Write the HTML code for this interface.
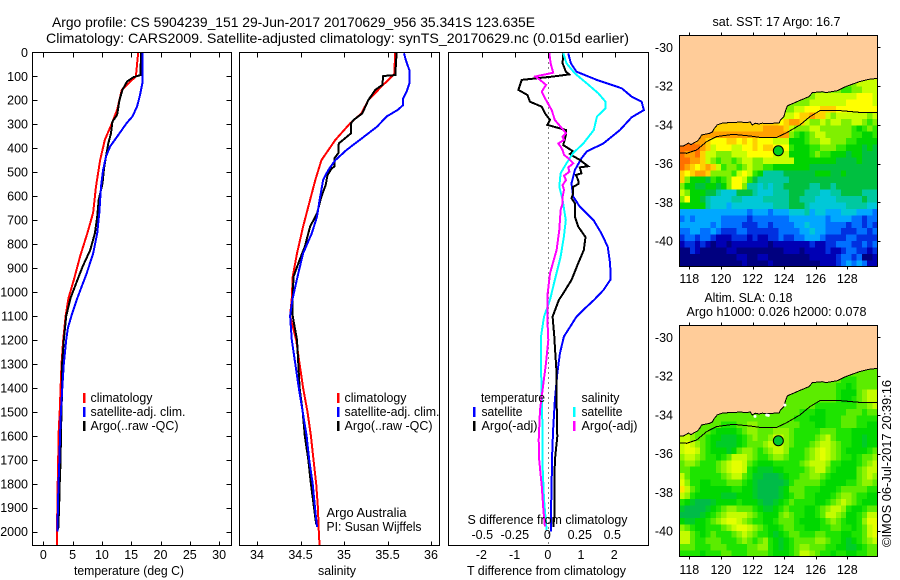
<!DOCTYPE html>
<html>
<head>
<meta charset="utf-8">
<title>Argo profile 5904239_151</title>
<style>
html,body{margin:0;padding:0;background:#fff;}
svg{display:block;}
text{font-family:"Liberation Sans",sans-serif;font-size:12.5px;fill:#000;}
</style>
</head>
<body>
<svg id="chart" xmlns="http://www.w3.org/2000/svg" width="900" height="580" viewBox="0 0 900 580">
<rect x="0" y="0" width="900" height="580" fill="#fff"/>
<defs>
<clipPath id="clip-sst"><rect x="679.5" y="35.5" width="198" height="231"/></clipPath>
<clipPath id="clip-sla"><rect x="679.5" y="325.5" width="198" height="231"/></clipPath>
<clipPath id="clip-p1"><rect x="32.5" y="52.5" width="199" height="493"/></clipPath>
<clipPath id="clip-p2"><rect x="239.5" y="52.5" width="200" height="493"/></clipPath>
<clipPath id="clip-p3"><rect x="448.5" y="52.5" width="200" height="493"/></clipPath>
</defs>
<g id="layer-maps"></g>
<g id="layer-lines"></g>
<g id="layer-axes"></g>
<text x="52" y="27" style="font-size:14px" textLength="483" lengthAdjust="spacingAndGlyphs">Argo profile: CS 5904239_151 29-Jun-2017 20170629_956 35.341S 123.635E</text>
<text x="46" y="43" style="font-size:14px" textLength="583" lengthAdjust="spacingAndGlyphs">Climatology: CARS2009. Satellite-adjusted climatology: synTS_20170629.nc (0.015d earlier)</text>
<text x="74" y="575" textLength="110" lengthAdjust="spacingAndGlyphs">temperature (deg C)</text>
<text x="318" y="575" textLength="38" lengthAdjust="spacingAndGlyphs">salinity</text>
<text x="467" y="575" textLength="159" lengthAdjust="spacingAndGlyphs">T difference from climatology</text>
<text x="467.5" y="524" textLength="160" lengthAdjust="spacingAndGlyphs">S difference from climatology</text>
<text x="90.5" y="402" textLength="62" lengthAdjust="spacingAndGlyphs">climatology</text>
<text x="90.5" y="416" textLength="95" lengthAdjust="spacingAndGlyphs">satellite-adj. clim.</text>
<text x="90.5" y="430" textLength="88" lengthAdjust="spacingAndGlyphs">Argo(..raw -QC)</text>
<text x="344.5" y="402" textLength="62" lengthAdjust="spacingAndGlyphs">climatology</text>
<text x="344.5" y="416" textLength="95" lengthAdjust="spacingAndGlyphs">satellite-adj. clim.</text>
<text x="344.5" y="430" textLength="88" lengthAdjust="spacingAndGlyphs">Argo(..raw -QC)</text>
<text x="326.5" y="517" textLength="80" lengthAdjust="spacingAndGlyphs">Argo Australia</text>
<text x="326.5" y="531" textLength="95" lengthAdjust="spacingAndGlyphs">PI: Susan Wijffels</text>
<text x="481" y="402" textLength="64" lengthAdjust="spacingAndGlyphs">temperature</text>
<text x="481.5" y="416" textLength="41" lengthAdjust="spacingAndGlyphs">satellite</text>
<text x="481.5" y="430" textLength="56" lengthAdjust="spacingAndGlyphs">Argo(-adj)</text>
<text x="581.5" y="402" textLength="38" lengthAdjust="spacingAndGlyphs">salinity</text>
<text x="581.5" y="416" textLength="41" lengthAdjust="spacingAndGlyphs">satellite</text>
<text x="581.5" y="430" textLength="56" lengthAdjust="spacingAndGlyphs">Argo(-adj)</text>
<text x="712.5" y="26" textLength="128" lengthAdjust="spacingAndGlyphs">sat. SST: 17 Argo: 16.7</text>
<text x="704.5" y="302" textLength="88" lengthAdjust="spacingAndGlyphs">Altim. SLA: 0.18</text>
<text x="686.5" y="316" textLength="180" lengthAdjust="spacingAndGlyphs">Argo h1000: 0.026 h2000: 0.078</text>
<text transform="translate(891,547) rotate(-90)" x="0" y="0" textLength="167" lengthAdjust="spacingAndGlyphs">©IMOS 06-Jul-2017 20:39:16</text>
</svg>
<script>
// ---------- profile data ----------
const depthTicks = [0,100,200,300,400,500,600,700,800,900,1000,1100,1200,1300,1400,1500,1600,1700,1800,1900,2000];
const tempTicks = [0,5,10,15,20,25,30];
const salTicks = [34,34.5,35,35.5,36];
const salTickLabels = ['34','34.5','35','35.5','36'];
const tDiffTicks = [-2,-1,0,1,2];
const sDiffTicks = [-0.5,-0.25,0,0.25,0.5];
const sDiffTickLabels = ['-0.5','-0.25','0','0.25','0.5'];

const tempClimDepth = [0,100,157,240,296,366,450,560,670,755,850,950,1026,1100,1200,1300,1400,1500,1600,1700,1800,1900,2000,2060];
const tempClimValue = [16.2,15.8,13.4,12.6,11.7,10.5,9.7,9.0,8.5,7.5,6.3,5.2,4.3,3.8,3.4,3.1,2.95,2.8,2.6,2.55,2.45,2.4,2.3,2.3];
const tempSatDepth = [0,100,130,178,226,268,296,338,393,435,491,560,670,755,840,922,1026,1100,1150,1200,1300,1400,1500,1600,1700,1800,1900,2000];
const tempSatValue = [16.9,16.9,16.9,16.5,16.0,15.2,14.2,13.0,11.4,10.7,10.2,9.85,9.55,9.2,8.5,7.4,5.8,4.8,4.2,3.9,3.5,3.25,3.0,2.85,2.75,2.6,2.5,2.4];
const tempArgoDepth = [0,95,104,122,157,199,261,289,338,380,435,484,547,616,686,755,825,894,964,1026,1100,1200,1300,1400,1500,1600,1700,1800,1900,1990];
const tempArgoValue = [16.7,16.55,15.4,14.3,13.5,13.0,12.6,11.8,11.55,11.1,10.7,10.35,10.1,9.45,9.2,8.8,8.0,6.7,5.6,4.65,3.9,3.5,3.2,3.2,3.1,3.0,2.95,2.8,2.7,2.55];

const salClimDepth = [0,90,143,199,255,296,366,450,533,644,727,839,936,1026,1100,1200,1300,1400,1500,1600,1700,1800,1900,2000,2060];
const salClimValue = [35.586,35.58,35.43,35.28,35.2,35.07,34.9,34.74,34.67,34.59,34.53,34.46,34.41,34.40,34.38,34.45,34.49,34.53,34.58,34.62,34.65,34.68,34.70,34.71,34.72];
const salSatDepth = [4,32,74,130,164,192,220,240,268,310,366,407,450,491,533,616,686,755,839,922,1026,1050,1100,1200,1300,1400,1500,1600,1700,1800,1900,1980];
const salSatValue = [35.69,35.71,35.75,35.75,35.72,35.68,35.68,35.62,35.49,35.38,35.18,35.03,34.9,34.82,34.76,34.72,34.69,34.63,34.53,34.475,34.41,34.40,34.38,34.40,34.44,34.48,34.525,34.57,34.60,34.64,34.667,34.69];
const salArgoDepth = [0,95,99,136,157,199,255,282,296,338,359,380,421,442,477,484,512,553,602,672,727,811,866,936,1026,1100,1200,1300,1400,1500,1600,1700,1800,1900,1970];
const salArgoValue = [35.605,35.59,35.45,35.44,35.36,35.28,35.21,35.11,35.08,35.08,35.01,34.94,34.935,34.89,34.89,34.86,34.81,34.79,34.74,34.69,34.61,34.55,34.49,34.42,34.41,34.41,34.46,34.475,34.49,34.525,34.55,34.59,34.62,34.655,34.68];

const tDiffSatDepth = [4,46,81,115,150,185,206,241,271,324,380,414,442,491,547,602,644,700,755,811,880,947,992,1033,1075,1103,1186,1256,1339,1450,1561,1659,1798,1923,2000];
const tDiffSatValue = [0.60,0.68,0.85,1.46,2.21,2.51,2.81,2.88,2.51,2.16,1.66,1.16,1.0,0.8,0.7,0.75,0.95,1.36,1.6,1.79,1.86,1.88,1.66,1.38,1.05,0.85,0.47,0.35,0.27,0.2,0.15,0.12,0.10,0.08,0.08];
const tDiffArgoDepth = [4,46,81,92,101,115,136,157,178,206,227,255,282,303,324,345,387,400,414,424,433,449,475,480,505,512,533,549,561,588,609,630,686,727,771,825,880,950,1006,1033,1103,1186,1228,1339,1450,1603,1700,1812,1937,1980];
const tDiffArgoValue = [0.45,0.43,0.53,0.63,0.15,-0.8,-0.85,-0.9,-0.63,-0.55,-0.2,-0.1,0.05,-0.03,0.53,0.53,0.45,0.6,0.75,0.65,0.75,0.95,1.2,0.95,1.0,0.83,0.9,0.91,0.75,0.75,0.7,0.8,0.8,0.9,1.12,1.07,0.9,0.7,0.45,0.32,0.13,0.18,0.2,0.25,0.25,0.27,0.2,0.18,0.18,0.15];
const sDiffSatDepth = [4,46,88,129,171,206,234,268,324,380,421,463,505,560,616,700,769,853,950,1033,1103,1186,1311,1450,1589,1728,1867,1992];
const sDiffSatValue = [0.115,0.14,0.205,0.295,0.385,0.44,0.44,0.375,0.35,0.27,0.19,0.14,0.095,0.085,0.11,0.135,0.12,0.095,0.05,0.013,-0.033,-0.056,-0.056,-0.05,-0.044,-0.044,-0.033,-0.013];
const sDiffArgoDepth = [4,46,85,101,115,136,164,199,241,282,324,338,352,366,380,394,408,428,442,463,480,498,515,533,554,574,602,630,658,741,825,922,1019,1103,1200,1297,1381,1492,1617,1700,1812,1909,1978];
const sDiffArgoValue = [0.008,0.018,0.038,-0.10,-0.064,-0.018,-0.05,-0.018,0.026,0.05,0.115,0.136,0.110,0.121,0.077,0.095,0.110,0.121,0.154,0.192,0.154,0.162,0.121,0.136,0.110,0.121,0.110,0.110,0.095,0.085,0.064,0.013,-0.008,-0.008,0,-0.018,-0.038,-0.064,-0.074,-0.07,-0.05,-0.038,-0.026];

// ---------- map data ----------
const lonTicks = [118,120,122,124,126,128];
const latTicks = [-30,-32,-34,-36,-38,-40];
const coastLon = [117.35,117.60,117.77,117.94,118.11,118.30,118.51,118.66,118.78,119.04,119.29,119.46,119.56,119.77,120.09,120.51,121.25,121.67,121.84,121.99,122.16,122.41,122.62,123.05,123.36,123.68,123.78,123.99,124.10,124.21,124.73,124.94,125.57,125.79,126.42,126.63,127.37,127.90,128.74,129.37,129.94];
const coastLat = [-35.08,-35.10,-35.03,-34.94,-35.03,-34.93,-34.84,-34.70,-34.53,-34.48,-34.44,-34.37,-34.22,-34.00,-33.92,-33.89,-33.86,-33.89,-33.84,-34.01,-33.92,-33.96,-33.92,-33.94,-33.92,-33.92,-33.75,-33.58,-33.24,-33.02,-32.84,-32.76,-32.55,-32.34,-32.29,-32.34,-32.24,-32.03,-31.78,-31.65,-31.60];
const shelfLon = [117.37,117.83,118.46,119.10,119.73,120.78,121.84,122.47,123.53,124.16,125.00,125.64,126.27,127.54,128.80,129.90];
const shelfLat = [-35.44,-35.47,-35.30,-34.87,-34.61,-34.49,-34.58,-34.65,-34.65,-34.41,-34.01,-33.58,-33.27,-33.27,-33.36,-33.37];
const floatLon = [123.635];
const floatLat = [-35.341];
const slaGapLon = [122.16,122.9,123.0,124.05];
const slaGapLat = [-34.08,-34.01,-34.03,-33.5];

const sstRows = [
"kkkkkkkkkkkkkkkkkkkkkkkkkkkkkkkkkkkkll",
"kkkkkkkkkkkkkkkkkkkkkkkkkkkkkkkkkkllll",
"kkkkkkkkkkkkkkkkkkkkkkkkkkkkkkkjjkklll",
"kkkkkkkkkkkkkkkkkkkkkkkkkkllllllllmmml",
"kkkkkkkkkkkkkkkkkkkkkkkkklllllllmmmmml",
"kkkkkkkkkkkkkkkkkkkkkkllmmmnnnmmmmmmmm",
"kkkkkkkkkkkkkkkkkkklllmnnonnlkllllllkl",
"nnnnnnnnnnnnnnnnnnnmnoonlkklkllkkllkjk",
"nnnnonnnnnnnnnnnoooonlkkkllkkkkkkjijkj",
"oooooooooooooooooooookjijkllkkkkkjjiij",
"pppoonmmmnnmnmnmmmllliiijkkllkkkjjiiii",
"pppponlmmmllmmnmnnmmmjiiijjkkkjjiiihih",
"poopnllkkklllmmmmmllliiiijkjjiiihiihhh",
"ppoonlkjkkjkllkklllllliiiiiiiihhhhihhh",
"ponmnonljkkjklkkjjiiiiiiihhhhhhhhhhhhh",
"nmnoonkkkkjlmljigggghhhhhhiiihhihhhhhh",
"nkiiihjijkmmljhgggggghhhhhhhhhhhhhhhhh",
"kiihhiihikmmkggfgfgghhhhhgghhghhhhhhhh",
"lkiiihhgfffhhhgfffggghhhgggffgghhhhggg",
"kmiihgffffggffffggggghhgggffffggggghgg",
"iiiiigfffeffffffffggghhhgfffffffggggff",
"eeeeeeeeeeeeedeeedeeefffgeffeeefffeeed",
"dedeeeeedddddcdddddddeeeeeeedeeeeddcdd",
"eeeeeededdddcccddcddddeefeeeddddcddcdc",
"ddeeddedcccddccccccddddeefeedddcccddcd",
"cddcddcbbbcccbcbbccdccddeeedccccddcccc",
"bccbcbabbabbbbbbbabbbbbbbcbbccdddccdcd",
"aacbaaaaabbaaaaaaaaabbbabbbbcbbcddccbc",
"aaaaaaaaaaabbaabbaaaaaaaabbbbbcddcdaab",
"aaaaaaaaaaaabaaaabaaaaaaaaabbbcdededbb"
];
const slaRows = [
"EEEEEEEEEEEEEEEEEEEEEEEEEEEEEEEEEEEEEE",
"EEEEEEEEEEEEEEEEEEEEEEEEEEEEEEEEEEEEEE",
"EEEEEEEEEEEEEEEEEEEEEEEEEEEEEEEDDDEEEE",
"EEEEEEEEEEEEEEEEEEEEEEEEEEEEEEDDCDEEEE",
"EEEEEEEEEEEEEEEEEEEEEEEEEEEEEEDCCCEFGG",
"EEEEEEEEEEEEEEEEEEEEEEEEEEEEEEDCCDEFGG",
"EEEEEEEEEEEEEEEEEEEEEEEEEEDDDDDDDDEEFG",
"EEEEEEEEEEEEEEEEEEEEEEEDDDCCDDDDEEEDEE",
"EEEEEEEEEEEEEEEEEEEEEEDDDCCCDDDEEEDDDD",
"EEEEEEEEDDDEEFFEEEEEEEEDDDCCDDDEEEDDCC",
"FFFEEEDCCCCDEFFEEEFFFEDDDDDEEEDDDCCCCC",
"GGFEEDCCBBBCDEFEEFGGFEDDDDEFGEDDDCCBCC",
"GHGFEDCBBBBCDEEEFGGGFEDDDEFGGFEDDCCBCC",
"GHHGEDCCCBCEFFEDEFGGFDDDEFGHGFEDCCCCDE",
"FGGFEDDCDEGGGFEDDEFFEDDDEFGHGFEDDCDEEF",
"EFFEDDDEFGHHGEDCCCDDDDDEFGGGFDDCCCDEFG",
"EEDDDDDEFGHHGDCBBBCCDDDDEFGGEDCCCCEFGG",
"GEDDDDDDEFGGEDBBAAABCDDEEFFEDCCCCCEFGF",
"HFDDCCDDDEEEDCBAAAAABDEEEEEDCCCCDDEFFE",
"IGEDCCCCCCDDCCBAAAABCEEEDDDCCCDEEEEEDD",
"GFDCCCCCBBBCCCBAAAABCDEEDDCCCDEFFEDDCC",
"DCBAAABCCCCDCCCBAABCDEDDDDCCDEFGFEDCCC",
"BAAAABCDEFFEEEDCBBCDEDDDCCDEFGGFDCCDEE",
"AAAABCDEFGGGGFEDCCCEFEDDCCDEGGFECCDEGG",
"CBBCCDEFGHHGFEDDCCDEEEDCCCCDEFEDCCDFHH",
"FEDCCDDDEFGHHGFEDCCDEEDDCCCDDEEDDCDEGH",
"GGEDCDEDDDEFGFEDDCBCDEEDDDEEDDDCCDDEGH",
"GGEDDEEEDDDEFEDEFDCBCDEEEEFFEDDCBCDEFG",
"EEEDDDEEEDDDDEEFFDCBCDEFFEEEDDCCBBCDEE",
"DDDDCDDDEEDDDEEEEDCCCDEGGFEDDCDDCCDDEE"
];
const sstColours = {a:'#00007f',b:'#0000b4',c:'#0030e0',d:'#0070ff',e:'#00a8ff',f:'#00c8d8',g:'#00c8a0',h:'#00c040',i:'#00d400',j:'#30e800',k:'#80f000',l:'#c8ff00',m:'#ffff00',n:'#ffd000',o:'#ffa000',p:'#ff7000'};
const slaColours = {A:'#00bc48',B:'#00cc28',C:'#00d800',D:'#1ee400',E:'#5cec00',F:'#90f400',G:'#c4fc00',H:'#e4ff00',I:'#ffe600'};

// ---------- axis functions ----------
const NS = 'http://www.w3.org/2000/svg';
const mapsLayer = document.getElementById('layer-maps');
const linesLayer = document.getElementById('layer-lines');
const axesLayer = document.getElementById('layer-axes');
const depthY = d => 52.3 + 0.2397 * d;
const tempX = v => 43.3 + 5.86 * v;
const salX = v => 257 + 87 * (v - 34);
const tDiffX = v => 548.3 + 33.2 * v;
const sDiffX = v => 548.3 + 130 * v;
const lonX = v => 689.3 + 15.8 * (v - 118);
const sstLatY = v => 47.3 + 19.37 * (-30 - v);
const slaLatY = v => 337.3 + 19.37 * (-30 - v);

function make(tag, parent, attrs) {
  const el = document.createElementNS(NS, tag);
  for (const k in attrs) el.setAttribute(k, attrs[k]);
  parent.appendChild(el);
  return el;
}
function segment(parent, x1, y1, x2, y2) {
  return make('line', parent, {x1, y1, x2, y2, stroke: '#000', 'stroke-width': 1, 'shape-rendering': 'crispEdges'});
}
function label(parent, x, y, anchor, str) {
  const el = make('text', parent, {x, y, 'text-anchor': anchor});
  el.textContent = str;
  return el;
}
function profile(depths, values, xFn, colour, clip) {
  const pts = depths.map((d, i) => xFn(values[i]).toFixed(1) + ',' + depthY(d).toFixed(1)).join(' ');
  return make('polyline', linesLayer, {points: pts, fill: 'none', stroke: colour, 'stroke-width': 2, 'stroke-linejoin': 'miter', 'shape-rendering': 'crispEdges', 'clip-path': 'url(#' + clip + ')'});
}
function frame(x, y, w, h) {
  return make('rect', axesLayer, {x, y, width: w, height: h, fill: 'none', stroke: '#000', 'stroke-width': 1, 'shape-rendering': 'crispEdges'});
}

// ---------- profile series ----------
let s;
s = profile(tempClimDepth, tempClimValue, tempX, '#ff0000', 'clip-p1');


s = profile(tempArgoDepth, tempArgoValue, tempX, '#000000', 'clip-p1');


s = profile(tempSatDepth, tempSatValue, tempX, '#0000ff', 'clip-p1');


s = profile(salClimDepth, salClimValue, salX, '#ff0000', 'clip-p2');


s = profile(salArgoDepth, salArgoValue, salX, '#000000', 'clip-p2');


s = profile(salSatDepth, salSatValue, salX, '#0000ff', 'clip-p2');



const zeroLine = make('line', linesLayer, {x1: tDiffX(0), y1: 52.5, x2: tDiffX(0), y2: 545, stroke: '#000', 'stroke-width': 1, 'stroke-dasharray': '1 4', 'shape-rendering': 'crispEdges'});



s = profile(tDiffSatDepth, tDiffSatValue, tDiffX, '#0000ff', 'clip-p3');


s = profile(tDiffArgoDepth, tDiffArgoValue, tDiffX, '#000000', 'clip-p3');


s = profile(sDiffSatDepth, sDiffSatValue, sDiffX, '#00ffff', 'clip-p3');


s = profile(sDiffArgoDepth, sDiffArgoValue, sDiffX, '#ff00ff', 'clip-p3');



// ---------- profile axes ----------
let el;
el = frame(32.5, 52.5, 199, 493);


el = frame(239.5, 52.5, 200, 493);


el = frame(448.5, 52.5, 200, 493);



depthTicks.forEach(d => {
  const y = Math.round(depthY(d)) + 0.5;
  let t = segment(axesLayer, 32.5, y, 37.5, y);
  
  
  t = segment(axesLayer, 226.5, y, 231.5, y);
  
  
  const l = label(axesLayer, 28, depthY(d) + 4.5, 'end', String(d));
  
  
});
tempTicks.forEach(v => {
  const x = Math.round(tempX(v)) + 0.5;
  let t = segment(axesLayer, x, 52.5, x, 57.5);
  
  
  t = segment(axesLayer, x, 541.5, x, 545.5);
  
  
  const l = label(axesLayer, tempX(v), 559, 'middle', String(v));
  
  
});
salTicks.forEach((v, i) => {
  const x = Math.round(salX(v)) + 0.5;
  let t = segment(axesLayer, x, 52.5, x, 57.5);
  
  
  t = segment(axesLayer, x, 541.5, x, 545.5);
  
  
  const l = label(axesLayer, salX(v), 559, 'middle', salTickLabels[i]);
  
  
});
tDiffTicks.forEach(v => {
  const x = Math.round(tDiffX(v)) + 0.5;
  const t = segment(axesLayer, x, 52.5, x, 57.5);
  
  
  const l = label(axesLayer, tDiffX(v) - 0.5, 559, 'middle', String(v));
  
  
});
sDiffTicks.forEach((v, i) => {
  const l = label(axesLayer, sDiffX(v) - 1, 539, 'middle', sDiffTickLabels[i]);
  
  
});

// ---------- legend swatches ----------
function swatch(x, y, colour) {
  return make('rect', axesLayer, {x, y, width: 2.5, height: 10, fill: colour, 'shape-rendering': 'crispEdges'});
}
el = swatch(83, 393, '#ff0000');


el = swatch(83, 407, '#0000ff');


el = swatch(83, 421, '#000000');


el = swatch(337, 393, '#ff0000');


el = swatch(337, 407, '#0000ff');


el = swatch(337, 421, '#000000');


el = swatch(473, 407, '#0000ff');


el = swatch(473, 421, '#000000');


el = swatch(573, 407, '#00ffff');


el = swatch(573, 421, '#ff00ff');



// ---------- maps ----------
const gridLonStart = 117.37;
const gridLonStep = 0.33;
const gridLatStart = -31.37;
const gridLatStep = 0.332;

function drawCells(rows, colours, latY, clip) {
  const g = make('g', mapsLayer, {'clip-path': 'url(#' + clip + ')', 'shape-rendering': 'crispEdges'});
  rows.forEach((row, r) => {
    const y0 = latY(gridLatStart - r * gridLatStep);
    const y1 = latY(gridLatStart - (r + 1) * gridLatStep);
    for (let c = 0; c < row.length; c++) {
      const x0 = lonX(gridLonStart + c * gridLonStep);
      const x1 = lonX(gridLonStart + (c + 1) * gridLonStep);
      const cell = make('rect', g, {x: x0.toFixed(2), y: y0.toFixed(2), width: (x1 - x0 + 0.6).toFixed(2), height: (y1 - y0 + 0.6).toFixed(2), fill: colours[row[c]]});
      
      
    }
  });
  return g;
}
function drawOverlay(latY, clip, top, markerFill) {
  const g = make('g', mapsLayer, {'clip-path': 'url(#' + clip + ')'});
  const coast = coastLon.map((v, i) => lonX(v).toFixed(1) + ',' + latY(coastLat[i]).toFixed(1));
  const land = make('polygon', g, {points: '880,' + top + ' 679,' + top + ' ' + coast.join(' ') + ' 880,' + latY(coastLat[coastLat.length - 1]).toFixed(1), fill: '#ffcc99', stroke: 'none'});
  
  
  const coastLine = make('polyline', g, {points: coast.join(' '), fill: 'none', stroke: '#000', 'stroke-width': 1, 'shape-rendering': 'crispEdges'});
  
  
  const shelf = make('polyline', g, {points: shelfLon.map((v, i) => lonX(v).toFixed(1) + ',' + latY(shelfLat[i]).toFixed(1)).join(' '), fill: 'none', stroke: '#000', 'stroke-width': 1, 'shape-rendering': 'crispEdges'});
  
  
  const marker = make('circle', g, {cx: lonX(floatLon[0]), cy: latY(floatLat[0]), r: 5, fill: markerFill, stroke: '#000', 'stroke-width': 1});
  
  
}
function mapAxes(latY, x, y, w, h, lonLabelY) {
  const f = frame(x, y, w, h);
  
  
  lonTicks.forEach(v => {
    const px = Math.round(lonX(v)) + 0.5;
    let t = segment(axesLayer, px, y - 3, px, y);
    
    
    t = segment(axesLayer, px, y + h, px, y + h + 3);
    
    
    const l = label(axesLayer, lonX(v), lonLabelY, 'middle', String(v));
    
    
  });
  latTicks.forEach(v => {
    const py = Math.round(latY(v)) + 0.5;
    const t = segment(axesLayer, x + w, py, x + w + 3, py);
    
    
    const l = label(axesLayer, 673, latY(v) + 4.5, 'end', String(v));
    
    
  });
}
el = drawCells(sstRows, sstColours, sstLatY, 'clip-sst');


el = drawCells(slaRows, slaColours, slaLatY, 'clip-sla');


drawOverlay(sstLatY, 'clip-sst', 35, '#00d020');
drawOverlay(slaLatY, 'clip-sla', 325, '#00c830');
slaGapLon.forEach((v, i) => {
  const gap = make('circle', mapsLayer, {cx: lonX(v), cy: slaLatY(slaGapLat[i]), r: 1.5, fill: '#fff'});
  
  
});
mapAxes(sstLatY, 679.5, 35.5, 198, 231, 283);
mapAxes(slaLatY, 679.5, 325.5, 198, 231, 574);
</script>
</body>
</html>
